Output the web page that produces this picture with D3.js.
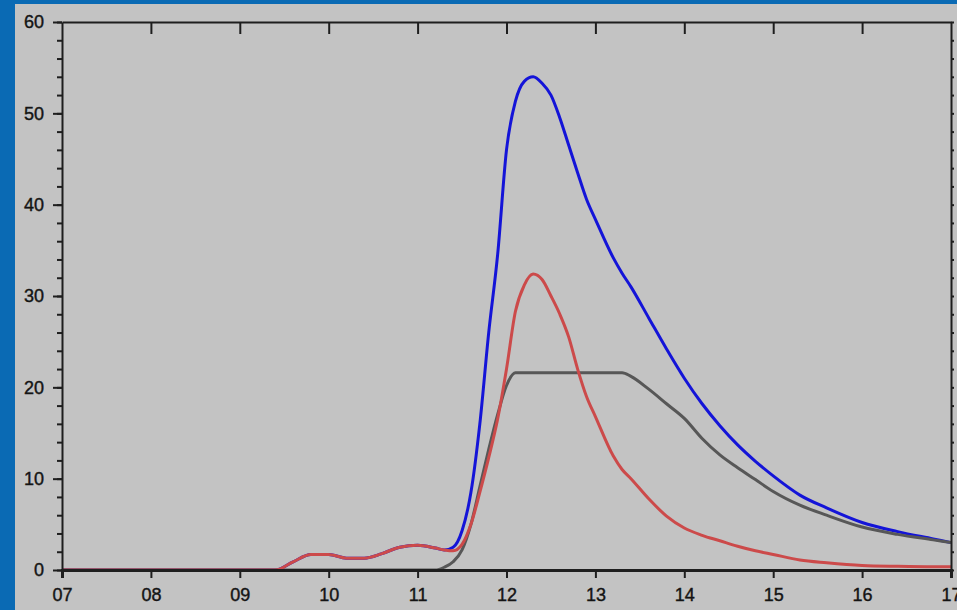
<!DOCTYPE html>
<html>
<head>
<meta charset="utf-8">
<script src="https://cdn.jsdelivr.net/npm/d3@7"></script>
<style>
  html, body { margin: 0; padding: 0; background: #0a6ab4; }
  svg { display: block; }
</style>
</head>
<body>
<svg id="chart" width="957" height="610"></svg>
<script>
// hours of the day (x values shared by all three curves)
const hours = [7, 9.4, 9.6, 9.8, 10.0, 10.2, 10.4, 10.6, 10.8, 11.0, 11.2, 11.3, 11.4, 11.5,
  11.6, 11.7, 11.8, 11.9, 12.0, 12.1, 12.2, 12.3, 12.4, 12.5, 12.6, 12.7, 12.8, 12.9, 13.0,
  13.2, 13.3, 13.4, 13.6, 13.8, 14.0, 14.2, 14.4, 14.6, 14.8, 15.0, 15.3, 15.6, 16.0, 16.4,
  16.8, 17.0];

const redValues = [0, 0, 0.9, 1.7, 1.7, 1.3, 1.3, 1.8, 2.5, 2.7, 2.4, 2.2, 2.1, 2.8,
  5.0, 8.5, 12.3, 16.5, 22.0, 28.3, 31.2, 32.4, 31.8, 30.0, 28.0, 25.5, 22.0, 19.0, 16.8,
  12.5, 11.0, 10.0, 7.8, 5.9, 4.6, 3.8, 3.2, 2.6, 2.1, 1.7, 1.1, 0.8, 0.5, 0.4,
  0.35, 0.35];

const grayValues = [0, 0, 0, 0, 0, 0, 0, 0, 0, 0, 0, 0.3, 0.9, 2.2,
  5.0, 9.1, 13.2, 17.0, 20.2, 21.6, 21.6, 21.6, 21.6, 21.6, 21.6, 21.6, 21.6, 21.6, 21.6,
  21.6, 21.6, 21.2, 19.8, 18.2, 16.6, 14.4, 12.6, 11.2, 9.9, 8.6, 7.1, 6.0, 4.7, 3.9,
  3.3, 3.0];

const blueValues = [0, 0, 0.9, 1.7, 1.7, 1.3, 1.3, 1.8, 2.5, 2.7, 2.4, 2.2, 2.5, 4.3,
  8.5, 16.0, 26.0, 34.5, 46.0, 51.3, 53.5, 54.0, 53.3, 52.0, 49.5, 46.5, 43.5, 40.6, 38.4,
  34.2, 32.5, 31.0, 27.6, 24.2, 21.0, 18.2, 15.8, 13.7, 11.9, 10.3, 8.2, 6.8, 5.2, 4.2,
  3.4, 3.0];

const xTicks = [7, 8, 9, 10, 11, 12, 13, 14, 15, 16, 17];
const yTicks = [0, 10, 20, 30, 40, 50, 60];

const svg = d3.select("#chart");

// gray panel on the blue frame
svg.append("rect")
  .attr("x", 15).attr("y", 4)
  .attr("width", 942).attr("height", 606)
  .attr("fill", "#c3c3c3");

const x = d3.scaleLinear().domain([7, 17]).range([62, 951]);
const y = d3.scaleLinear().domain([0, 60]).range([570, 22]);

const line = d3.line()
  .x((d) => x(d[0]))
  .y((d) => y(d[1]))
  .curve(d3.curveMonotoneX);

const series = [
  { values: blueValues, color: "#1414d8" },
  { values: grayValues, color: "#575757" },
  { values: redValues, color: "#cc4a4a" },
];

series.forEach((s) => {
  svg.append("path")
    .datum(hours.map((h, i) => [h, s.values[i]]))
    .attr("fill", "none")
    .attr("stroke", s.color)
    .attr("stroke-width", 3)
    .attr("stroke-linejoin", "round")
    .attr("d", line);
});

// frame lines
const axisColor = "#1e1e1e";
const minor = d3.range(0, 61, 2);

// bottom axis
svg.append("g")
  .attr("transform", `translate(0,${y(0)})`)
  .call(d3.axisBottom(x).tickValues(xTicks).tickSize(8).tickPadding(10)
    .tickFormat((d) => d3.format("02d")(d)))
  .call((g) => g.select(".domain").attr("stroke-width", 3));

// top axis, ticks pointing into the plot
svg.append("g")
  .attr("transform", `translate(0,${y(60)})`)
  .call(d3.axisBottom(x).tickValues(xTicks.slice(1, -1)).tickSize(12).tickSizeOuter(0).tickFormat(""))
  .call((g) => g.select(".domain").attr("stroke-width", 2));

// left axis
svg.append("g")
  .attr("transform", `translate(${x(7)},0)`)
  .call(d3.axisLeft(y).tickValues(minor).tickSize(5).tickSizeOuter(0).tickFormat(""))
  .call((g) => g.select(".domain").attr("stroke-width", 2));
svg.append("g")
  .attr("transform", `translate(${x(7)},0)`)
  .call(d3.axisLeft(y).tickValues(yTicks).tickSize(9).tickSizeOuter(0).tickPadding(9))
  .call((g) => g.select(".domain").remove());

// right axis
svg.append("g")
  .attr("transform", `translate(${x(17)},0)`)
  .call(d3.axisRight(y).tickValues(minor).tickSize(3).tickSizeOuter(0).tickFormat(""))
  .call((g) => g.select(".domain").attr("stroke-width", 2));

svg.selectAll(".tick line").attr("stroke", axisColor).attr("stroke-width", 2);
svg.selectAll(".domain").attr("stroke", axisColor);
svg.selectAll(".tick text")
  .attr("fill", "#141414")
  .attr("stroke", "#141414")
  .attr("stroke-width", 0.4)
  .style("font-family", "'Liberation Sans', Arial, sans-serif")
  .style("font-size", "18px");
</script>
</body>
</html>
